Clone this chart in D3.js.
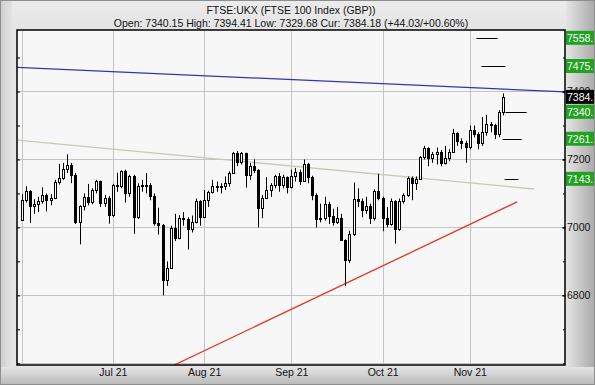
<!DOCTYPE html>
<html>
<head>
<meta charset="utf-8">
<script src="https://cdn.jsdelivr.net/npm/d3@7"></script>
<style>
  body { margin: 0; background: #fff; }
  svg { display: block; font-family: "Liberation Sans", Arial, sans-serif; }
</style>
</head>
<body>
<div id="chart"></div>
<script>
// trading days shown, Jun 1 to Nov 11 2021
var dates = [
  "2021-06-01","2021-06-02","2021-06-03","2021-06-04","2021-06-07","2021-06-08","2021-06-09","2021-06-10","2021-06-11",
  "2021-06-14","2021-06-15","2021-06-16","2021-06-17","2021-06-18","2021-06-21","2021-06-22","2021-06-23","2021-06-24",
  "2021-06-25","2021-06-28","2021-06-29","2021-06-30",
  "2021-07-01","2021-07-02","2021-07-05","2021-07-06","2021-07-07","2021-07-08","2021-07-09","2021-07-12","2021-07-13",
  "2021-07-14","2021-07-15","2021-07-16","2021-07-19","2021-07-20","2021-07-21","2021-07-22","2021-07-23","2021-07-26",
  "2021-07-27","2021-07-28","2021-07-29","2021-07-30",
  "2021-08-02","2021-08-03","2021-08-04","2021-08-05","2021-08-06","2021-08-09","2021-08-10","2021-08-11","2021-08-12",
  "2021-08-13","2021-08-16","2021-08-17","2021-08-18","2021-08-19","2021-08-20","2021-08-23","2021-08-24","2021-08-25",
  "2021-08-26","2021-08-27","2021-08-31",
  "2021-09-01","2021-09-02","2021-09-03","2021-09-06","2021-09-07","2021-09-08","2021-09-09","2021-09-10","2021-09-13",
  "2021-09-14","2021-09-15","2021-09-16","2021-09-17","2021-09-20","2021-09-21","2021-09-22","2021-09-23","2021-09-24",
  "2021-09-27","2021-09-28","2021-09-29","2021-09-30",
  "2021-10-01","2021-10-04","2021-10-05","2021-10-06","2021-10-07","2021-10-08","2021-10-11","2021-10-12","2021-10-13",
  "2021-10-14","2021-10-15","2021-10-18","2021-10-19","2021-10-20","2021-10-21","2021-10-22","2021-10-25","2021-10-26",
  "2021-10-27","2021-10-28","2021-10-29",
  "2021-11-01","2021-11-02","2021-11-03","2021-11-04","2021-11-05","2021-11-08","2021-11-09","2021-11-10","2021-11-11"
];

var open = [
  7022,7080,7108,7064,7069,7077,7095,7081,7088,7134,7146,7172,7185,7153,7017,7062,7090,7074,7109,7136,7072,7087,
  7037,7125,7123,7165,7101,7151,7030,7122,7125,7124,7091,7012,7008,6844,6881,6998,6968,7028,7025,6996,7016,7078,
  7032,7081,7105,7123,7120,7122,7132,7161,7220,7193,7218,7153,7181,7169,7058,7087,7109,7125,7150,7124,7148,
  7120,7150,7164,7138,7187,7149,7096,7024,7029,7068,7034,7016,7027,6963,6903,6980,7083,7078,7051,7063,7028,7108,
  7086,7027,7011,7077,6995,7078,7095,7146,7130,7141,7207,7234,7203,7217,7223,7190,7205,7223,7277,7253,7249,
  7238,7288,7274,7248,7280,7304,7300,7274,7340.15
];
var high = [
  7098,7121,7110,7083,7090,7118,7100,7098,7140,7187,7190,7215,7190,7160,7065,7100,7128,7115,7140,7138,7095,7092,
  7128,7161,7168,7170,7155,7155,7130,7140,7160,7130,7100,7058,7010,6900,7005,7040,7036,7045,7030,7035,7085,7080,
  7110,7108,7140,7135,7130,7150,7165,7222,7225,7222,7220,7190,7200,7171,7095,7148,7130,7155,7160,7155,7150,
  7170,7175,7170,7200,7190,7152,7100,7070,7090,7075,7055,7060,7040,6965,6990,7132,7115,7085,7090,7070,7112,7158,
  7090,7060,7085,7080,7085,7100,7150,7150,7150,7210,7240,7236,7222,7235,7228,7240,7230,7290,7280,7262,7255,
  7300,7300,7280,7325,7331,7310,7305,7345,7394.41
];
var low = [
  7020,7073,7013,7040,7045,7070,7047,7065,7083,7126,7140,7160,7130,7010,6950,7050,7065,7068,7100,7060,7060,7011,
  7030,7105,7115,7073,7090,6981,7025,7105,7100,7080,7005,6979,6800,6828,6878,6960,6965,7005,6935,6985,7012,7005,
  7030,7060,7100,7105,7100,7110,7120,7158,7180,7185,7117,7140,7160,7000,7027,7085,7090,7115,7105,7115,7100,
  7115,7135,7125,7135,7130,7080,7000,7015,7020,7010,7005,7010,6960,6828,6895,6975,7060,7030,7040,7010,7020,7080,
  6989,7000,7005,6952,6990,7070,7090,7080,7110,7140,7200,7180,7190,7185,7180,7185,7195,7220,7240,7230,7190,
  7230,7265,7230,7240,7270,7280,7260,7265,7329.68
];
var close = [
  7080,7108,7064,7069,7077,7095,7081,7088,7134,7146,7172,7185,7153,7017,7062,7090,7074,7109,7136,7072,7087,7037,
  7125,7123,7165,7101,7151,7030,7122,7125,7124,7091,7012,7008,6844,6881,6998,6968,7028,7025,6996,7016,7078,7032,
  7081,7105,7123,7120,7122,7132,7161,7220,7193,7218,7153,7181,7169,7058,7087,7109,7125,7150,7124,7148,7120,
  7150,7164,7138,7187,7149,7096,7024,7029,7068,7034,7016,7027,6963,6903,6980,7083,7078,7051,7063,7028,7108,7086,
  7027,7011,7077,6995,7078,7095,7146,7130,7141,7207,7234,7203,7217,7223,7190,7205,7223,7277,7253,7249,7238,
  7288,7274,7248,7280,7304,7300,7274,7340.15,7384.18
];

// trend lines as [day index, price] end points
var blueLine = [[-1, 7471], [131, 7399]];
var greyLine = [[-1, 7257], [123.5, 7113]];
var redLine = [[36.8, 6595], [119.4, 7075]];

// target levels: [price, from day, to day]
var targets = [[7558, 109.6, 114.7], [7475, 110.8, 116.6], [7340, 116.6, 121.7], [7261, 115.9, 120.5], [7143, 116.4, 119.7]];
var greenLabels = [7558, 7475, 7340.15, 7261, 7143];
var currentLabel = 7384.18;

var yTicks = [6800, 7000, 7200, 7400];
var yGrid = [6600, 6800, 7000, 7200, 7400];
var yMinor = [6600, 6700, 6800, 6900, 7000, 7100, 7200, 7300, 7400, 7500];
var monthNames = ["Jun 21", "Jul 21", "Aug 21", "Sep 21", "Oct 21", "Nov 21"];

var title = "FTSE:UKX (FTSE 100 Index (GBP))";
var subtitle = "Open: 7340.15 High: 7394.41 Low: 7329.68 Cur: 7384.18 (+44.03/+00.60%)";

var W = 595, H = 385;
var plotL = 17, plotR = 565, plotT = 30, plotB = 365;

var svg = d3.select("#chart").append("svg").attr("width", W).attr("height", H);
var defs = svg.append("defs");

function linGrad(id, x2, y2, c1, c2) {
  var g = defs.append("linearGradient").attr("id", id)
    .attr("x1", 0).attr("y1", 0).attr("x2", x2).attr("y2", y2);
  g.append("stop").attr("offset", 0).attr("stop-color", c1);
  g.append("stop").attr("offset", 1).attr("stop-color", c2);
}
linGrad("gRight", 1, 0, "#e4e4e4", "#a9a9a9");
linGrad("gBottom", 0, 1, "#e4e4e4", "#b9b9b9");
linGrad("gLeft", 1, 0, "#cdcdcd", "#e4e4e4");
linGrad("gTop", 0, 1, "#ececec", "#e4e4e4");

defs.append("clipPath").attr("id", "clipPlot")
  .append("rect").attr("x", plotL).attr("y", plotT).attr("width", plotR - plotL).attr("height", plotB - plotT);

// frame
svg.append("rect").attr("width", W).attr("height", H).attr("fill", "#e4e4e4");
svg.append("rect").attr("width", W).attr("height", 30).attr("fill", "url(#gTop)");
svg.append("rect").attr("x", 0).attr("width", 12).attr("height", H).attr("fill", "url(#gLeft)");
svg.append("rect").attr("x", 566).attr("width", W - 566).attr("height", H).attr("fill", "url(#gRight)");
svg.append("rect").attr("y", 367).attr("width", W).attr("height", H - 367).attr("fill", "url(#gBottom)");
svg.append("rect").attr("x", 0.5).attr("y", 0.5).attr("width", W - 1).attr("height", H - 1)
  .attr("fill", "none").attr("stroke", "#8e8e8e");

// plot background
svg.append("rect").attr("x", plotL).attr("y", plotT).attr("width", plotR - plotL).attr("height", plotB - plotT)
  .attr("fill", "#f7f7f7");

// scales
var x = d3.scaleLinear().domain([0, dates.length - 1]).range([21.5, 503]);
var y = d3.scaleLinear().domain([6595, 7581]).range([plotB, plotT]);

// first trading day of each month
var monthStarts = [];
dates.forEach(function(d, i) {
  if (i === 0 || d.slice(5, 7) !== dates[i - 1].slice(5, 7)) monthStarts.push(i);
});

// grid
var grid = svg.append("g").attr("stroke", "#c4c4c4").attr("stroke-width", 1);
grid.selectAll("line.h").data(yGrid).enter().append("line")
  .attr("x1", plotL).attr("x2", plotR)
  .attr("y1", function(d) { return Math.round(y(d)) + 0.5; })
  .attr("y2", function(d) { return Math.round(y(d)) + 0.5; });
grid.selectAll("line.v").data(monthStarts).enter().append("line")
  .attr("y1", plotT).attr("y2", plotB)
  .attr("x1", function(d) { return Math.round(x(d)) + 0.5; })
  .attr("x2", function(d) { return Math.round(x(d)) + 0.5; });

// trend lines
var line = d3.line().x(function(d) { return x(d[0]); }).y(function(d) { return y(d[1]); });
var trends = svg.append("g").attr("clip-path", "url(#clipPlot)").attr("fill", "none");
trends.append("path").attr("d", line(greyLine)).attr("stroke", "#c9c9b4").attr("stroke-width", 1.3);
trends.append("path").attr("d", line(blueLine)).attr("stroke", "#3434b0").attr("stroke-width", 1.3);
trends.append("path").attr("d", line(redLine)).attr("stroke", "#e8321e").attr("stroke-width", 1.3);

// candles
var idx = d3.range(dates.length);
var candles = svg.append("g");
candles.selectAll("line.wick").data(idx).enter().append("line")
  .attr("x1", function(i) { return Math.round(x(i)) + 0.5; })
  .attr("x2", function(i) { return Math.round(x(i)) + 0.5; })
  .attr("y1", function(i) { return y(high[i]); })
  .attr("y2", function(i) { return y(low[i]); })
  .attr("stroke", "#000").attr("stroke-width", 1);
candles.selectAll("rect.body").data(idx).enter().append("rect")
  .attr("x", function(i) { return Math.round(x(i)) - 0.5; })
  .attr("width", 2)
  .attr("y", function(i) { return Math.round(y(Math.max(open[i], close[i]))) + 0.5; })
  .attr("height", function(i) { return Math.max(1, Math.round(y(Math.min(open[i], close[i]))) - Math.round(y(Math.max(open[i], close[i])))); })
  .attr("fill", function(i) { return close[i] >= open[i] ? "#fff" : "#000"; })
  .attr("stroke", "#000").attr("stroke-width", 1);

// target levels
svg.append("g").selectAll("line").data(targets).enter().append("line")
  .attr("x1", function(d) { return x(d[1]); })
  .attr("x2", function(d) { return x(d[2]); })
  .attr("y1", function(d) { return Math.round(y(d[0])) + 0.5; })
  .attr("y2", function(d) { return Math.round(y(d[0])) + 0.5; })
  .attr("stroke", "#000").attr("stroke-width", 1);

// axes
var rightMinor = d3.axisRight(y).tickValues(yMinor).tickSize(-2).tickFormat("");
svg.append("g").attr("transform", "translate(" + plotR + ",0)").call(rightMinor)
  .call(function(g) { g.select(".domain").remove(); });
var rightAxis = d3.axisRight(y).tickValues(yTicks).tickSizeInner(-4).tickSizeOuter(0).tickPadding(2)
  .tickFormat(d3.format("d"));
var ra = svg.append("g").attr("transform", "translate(" + plotR + ",0)").call(rightAxis);
ra.select(".domain").remove();
ra.selectAll("text").attr("font-size", "10.5px").attr("font-family", "Liberation Sans, Arial, sans-serif").attr("fill", "#111");
ra.selectAll(".tick line").attr("x2", 1).attr("x1", -3);

var leftAxis = d3.axisLeft(y).tickValues(yMinor).tickSizeInner(-3).tickSizeOuter(0).tickFormat("");
var la = svg.append("g").attr("transform", "translate(" + plotL + ",0)").call(leftAxis);
la.select(".domain").remove();

var bottomAxis = d3.axisBottom(x).tickValues(monthStarts.slice(1)).tickSize(0).tickPadding(4)
  .tickFormat(function(i) { return monthNames[monthStarts.indexOf(i)]; });
var ba = svg.append("g").attr("transform", "translate(0," + plotB + ")").call(bottomAxis);
ba.select(".domain").remove();
ba.selectAll("text").attr("font-size", "10.5px").attr("font-family", "Liberation Sans, Arial, sans-serif").attr("fill", "#111");

// plot border
svg.append("rect").attr("x", plotL).attr("y", plotT).attr("width", plotR - plotL).attr("height", plotB - plotT)
  .attr("fill", "none").attr("stroke", "#000").attr("stroke-width", 1.5);

// price labels on the right (the frame cuts them after the point)
var labelData = greenLabels.map(function(v) { return { v: v, c: "#1fa31f" }; });
labelData.push({ v: currentLabel, c: "#000" });
var lab = svg.append("g").selectAll("g").data(labelData).enter().append("g");
lab.append("rect")
  .attr("x", plotR + 1).attr("width", 28)
  .attr("y", function(d) { return y(d.v) - 7; })
  .attr("height", 14)
  .attr("fill", function(d) { return d.c; });
lab.append("text")
  .attr("x", plotR + 2)
  .attr("y", function(d) { return y(d.v) + 4; })
  .attr("font-size", "10.5px").attr("fill", "#fff")
  .text(function(d) { return Math.floor(d.v) + "."; });

// titles
svg.append("text").attr("x", 291).attr("y", 14).attr("text-anchor", "middle")
  .attr("font-size", "10.5px").attr("fill", "#111").text(title);
svg.append("text").attr("x", 291).attr("y", 27).attr("text-anchor", "middle")
  .attr("font-size", "10.5px").attr("fill", "#111").text(subtitle);
</script>
</body>
</html>
